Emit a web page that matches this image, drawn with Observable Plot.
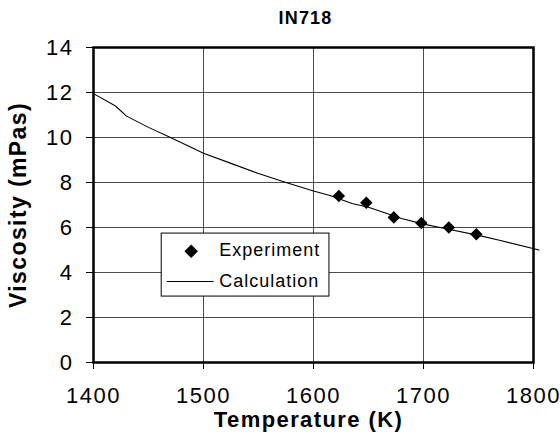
<!DOCTYPE html>
<html>
<head>
<meta charset="utf-8">
<script src="https://cdn.jsdelivr.net/npm/d3@7"></script>
<script src="https://cdn.jsdelivr.net/npm/@observablehq/plot@0.6"></script>
<style>
  html, body { margin: 0; padding: 0; background: #fff; }
  #chart svg { display: block; }
</style>
</head>
<body>
<div id="chart"></div>
<script>
// ---- data ----
const chartTitle = "IN718";
const xLabel = "Temperature (K)";
const yLabel = "Viscosity (mPas)";
const legendLabels = ["Experiment", "Calculation"];

const expTemp = [1623, 1648, 1673, 1698, 1723, 1748];
const expVisc = [7.4, 7.1, 6.45, 6.2, 6.0, 5.7];

const calcTemp = [1400, 1420, 1430, 1450, 1470, 1500, 1525, 1550, 1575, 1600, 1615, 1635, 1650, 1680, 1700, 1715, 1750, 1770, 1805];
const calcVisc = [11.95, 11.4, 10.95, 10.45, 10.0, 9.3, 8.85, 8.4, 8.0, 7.62, 7.42, 7.07, 6.9, 6.4, 6.15, 6.0, 5.65, 5.42, 5.0];

const xTicks = [1400, 1500, 1600, 1700, 1800];
const yTicks = [0, 2, 4, 6, 8, 10, 12, 14];

// legend placement (data units)
const legendBox = [{x1: 1462, x2: 1614.5, y1: 2.93, y2: 5.73}];
const legendMarker = [{x: 1488.8, y: 4.94}];
const legendLine = [{x: 1467, y: 3.6}, {x: 1508.8, y: 3.6}];
const legendText = [{x: 1514.3, y: 4.99, t: legendLabels[0]}, {x: 1514.3, y: 3.62, t: legendLabels[1]}];

const expData = expTemp.map((t, i) => ({t, v: expVisc[i]}));
const calcData = calcTemp.map((t, i) => ({t, v: calcVisc[i]}));

const font = "'Liberation Sans', Arial, sans-serif";

const chart = Plot.plot({
  width: 560,
  height: 439,
  marginLeft: 93,
  marginRight: 27,
  marginTop: 47,
  marginBottom: 77,
  style: {fontFamily: font, color: "#000", background: "#fff", overflow: "visible"},
  x: {domain: [1400, 1800], ticks: xTicks},
  y: {domain: [0, 14], ticks: yTicks},
  marks: [
    Plot.gridX(xTicks, {stroke: "#000", strokeOpacity: 0.7, strokeWidth: 1}),
    Plot.gridY(yTicks, {stroke: "#000", strokeOpacity: 0.7, strokeWidth: 1}),
    Plot.axisX(xTicks, {tickSize: 7, tickPadding: 18, fontSize: 22, tickFormat: "d", label: null, stroke: "#000", strokeWidth: 1}),
    Plot.axisY(yTicks, {tickSize: 7, tickPadding: 13, fontSize: 22, tickFormat: "d", label: null, stroke: "#000", strokeWidth: 1}),
    Plot.line(calcData, {x: "t", y: "v", stroke: "#000", strokeWidth: 1.1, clip: false}),
    Plot.dot(expData, {x: "t", y: "v", symbol: "square", rotate: 45, r: 5, fill: "#000", stroke: "none"}),
    Plot.frame({stroke: "#000", strokeWidth: 2.5}),
    // legend
    Plot.rect(legendBox, {x1: "x1", x2: "x2", y1: "y1", y2: "y2", fill: "#fff", stroke: "#000", strokeWidth: 1}),
    Plot.dot(legendMarker, {x: "x", y: "y", symbol: "square", rotate: 45, r: 5.4, fill: "#000", stroke: "none"}),
    Plot.line(legendLine, {x: "x", y: "y", stroke: "#000", strokeWidth: 1}),
    Plot.text(legendText, {x: "x", y: "y", text: "t", textAnchor: "start", lineAnchor: "middle", fontSize: 18, fill: "#000"}),
    // titles
    Plot.text([chartTitle], {frameAnchor: "top", textAnchor: "middle", dx: -8, dy: -29, lineAnchor: "middle", fontSize: 18, fontWeight: "bold", fill: "#000"}),
    Plot.text([xLabel], {frameAnchor: "bottom", textAnchor: "middle", dx: -5, dy: 57, lineAnchor: "middle", fontSize: 22, fontWeight: "bold", fill: "#000"}),
    Plot.text([yLabel], {frameAnchor: "left", textAnchor: "middle", dx: -75, rotate: -90, lineAnchor: "middle", fontSize: 23, fontWeight: "bold", fill: "#000"})
  ]
});

// slight horizontal widening of text, like the original's stretched font
const sel = d3.select(chart);
sel.selectAll("text").style("letter-spacing", "1px");
sel.selectAll('[aria-label="x-axis tick label"] text, [aria-label="y-axis tick label"] text').style("letter-spacing", "1.5px");
sel.selectAll("text").filter(function() { return this.textContent === xLabel || this.textContent === yLabel; }).style("letter-spacing", "1.4px");
sel.selectAll("text").filter(function() { return this.textContent === chartTitle; }).style("letter-spacing", "1.2px");
document.getElementById("chart").appendChild(chart);
</script>
</body>
</html>
